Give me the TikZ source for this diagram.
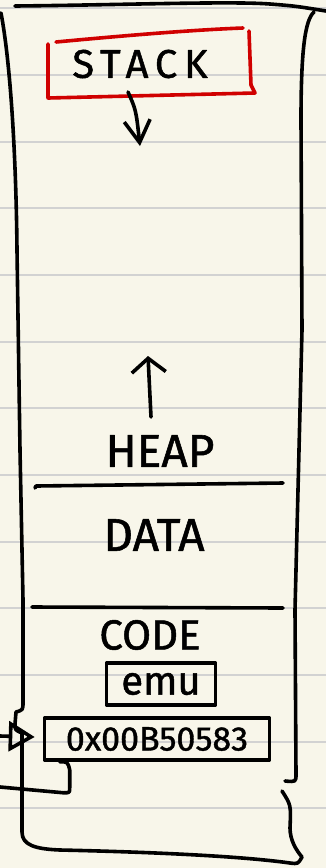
\documentclass[tikz,border=0pt]{standalone}
\usepackage{fontspec}
\setmainfont{Fira Sans}
\newfontfamily\inkfont[FakeBold=1.2]{Fira Sans}
\newfontfamily\spacedfont[LetterSpace=17,FakeBold=1.2]{Fira Sans}
\usetikzlibrary{arrows.meta}
\definecolor{paper}{HTML}{F8F6EA}
\definecolor{ruleline}{HTML}{D2D2D2}
\definecolor{inkred}{HTML}{D00000}
\begin{document}
\begin{tikzpicture}[x=1pt,y=-1pt,line cap=round,line join=round,
  ink/.style={line width=3.6pt,black},
  redink/.style={line width=3.6pt,inkred},
  ruled/.style={line width=2.6pt,ruleline},
  word/.style={inner sep=0pt,text=black},
  boxed/.style={ink,draw,inner sep=0pt}]
\fill[paper] (0,0) rectangle (326,868);
\useasboundingbox (0,0) rectangle (326,868);
\foreach \y in {8,75,142,208,275,342,408,475,542,608,675,742,808}
  \draw[ruled] (0,\y) -- (326,\y);
% outer container
\draw[ink] (15,6) .. controls (120,5) and (230,1) .. (270,4) .. controls (295,6) .. (326,11);
\draw[ink] (1,13) .. controls (10,60) and (16,150) .. (17,250) -- (20,450) -- (23,600)
  -- (23,702) .. controls (23,710) .. (16,712) -- (15,724) .. controls (15,730) .. (22,733)
  -- (22,832) .. controls (22,845) and (35,849) .. (60,850)
  .. controls (150,852) and (240,856) .. (290,863) .. controls (298,864) .. (302,857)
  .. controls (296,850) and (290,840) .. (290,828) .. controls (291,805) .. (282,791);
\draw[ink] (314,12) .. controls (305,20) and (301,50) .. (301,120) -- (302,330)
  -- (295,610) -- (296,774) .. controls (296,782) .. (285,781);
% stack
\node[word,font=\spacedfont\fontsize{40}{40}\selectfont] (stack) at (140,64) {STACK};
\draw[redink] (56,42) .. controls (120,36) and (190,30) .. (243,28);
\draw[redink] (249,31) -- (251,85) -- (255,93) -- (48,98) -- (48,44);
\coordinate (stackend) at (140,146);
\draw[ink,-{Straight Barb[length=22pt,width=26pt,line width=3.6pt]}] (128,92) .. controls (136,110) .. (stackend);
% heap
\node[word,font=\inkfont\fontsize{46}{46}\selectfont] (heap) at (160,451) {HEAP};
\coordinate (heaptip) at (148,356);
\draw[ink,-{Straight Barb[length=14pt,width=34pt,line width=3.6pt]}] (151,417) -- (heaptip);
\draw[ink] (35,488) -- (36,486) -- (283,483);
% data
\node[word,font=\inkfont\fontsize{46}{46}\selectfont] (data) at (154,535) {DATA};
\draw[ink] (32,607) -- (283,608);
% code
\node[word,font=\inkfont\fontsize{42}{42}\selectfont] (code) at (150,635) {CODE};
\node[boxed,minimum width=109pt,minimum height=42pt,font=\inkfont\fontsize{40}{40}\selectfont] (emu) at (161,684) {emu};
\node[boxed,minimum width=225pt,minimum height=42pt,font=\inkfont\fontsize{34}{34}\selectfont] (addr) at (157,739) {0x00B50583};
\coordinate (inlet) at (0,736);
\draw[ink,-{Triangle[open,length=26pt,width=30pt,line width=3.6pt]}] (inlet) -- ([xshift=-8pt,yshift=2pt]addr.west);
\coordinate (outlet) at (0,787);
\draw[ink] ([xshift=17pt]addr.south west) .. controls ++(8,0) .. ++(10,8) -- ++(0,18) .. controls ++(0,5) .. ++(-6,5) -- (outlet);
\end{tikzpicture}
\end{document}
